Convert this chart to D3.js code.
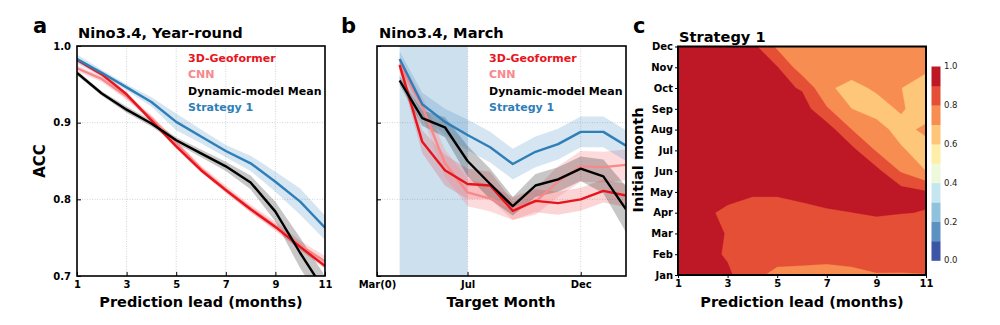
<!DOCTYPE html>
<html>
<head>
<meta charset="utf-8">
<script src="https://cdn.jsdelivr.net/npm/d3@7"></script>
<style>
  body { margin: 0; background: #fff; }
  text { font-family: 'DejaVu Sans', sans-serif; }
</style>
</head>
<body>
<div id="chart"></div>
<script>
// ---- data ----
const leads = [1, 2, 3, 4, 5, 6, 7, 8, 9, 10, 11];
const leadTicks = [1, 3, 5, 7, 9, 11];

// panel a: year-round ACC by lead
const geoformerA = [0.982, 0.963, 0.937, 0.903, 0.869, 0.838, 0.812, 0.787, 0.764, 0.738, 0.713];
const cnnA = [0.971, 0.957, 0.934, 0.906, 0.873, 0.840, 0.813, 0.788, 0.765, 0.740, 0.719];
const dynamicA = [0.965, 0.938, 0.917, 0.899, 0.877, 0.860, 0.843, 0.822, 0.784, 0.730, 0.680];
const strategyA = [0.983, 0.965, 0.946, 0.927, 0.901, 0.882, 0.863, 0.847, 0.823, 0.797, 0.763];
const geoformerSpreadA = [0.003, 0.003, 0.003, 0.003, 0.003, 0.003, 0.003, 0.004, 0.004, 0.004, 0.004];
const cnnSpreadA = [0.004, 0.004, 0.004, 0.004, 0.004, 0.004, 0.005, 0.005, 0.006, 0.006, 0.007];
const dynamicSpreadA = [0.003, 0.003, 0.004, 0.004, 0.004, 0.005, 0.006, 0.009, 0.013, 0.02, 0.02];
const strategySpreadA = [0.006, 0.004, 0.004, 0.006, 0.011, 0.009, 0.008, 0.010, 0.013, 0.017, 0.016];

// panel b: March target, by target month (0 = Mar(0))
const targetMonths = [1, 2, 3, 4, 5, 6, 7, 8, 9, 10, 11];
const targetTicks = [0, 4, 9];
const targetTickLabels = ['Mar(0)', 'Jul', 'Dec'];
const springBarrier = [1, 4];
const geoformerB = [0.975, 0.875, 0.838, 0.820, 0.818, 0.785, 0.798, 0.795, 0.800, 0.811, 0.805];
const cnnB = [0.976, 0.921, 0.847, 0.809, 0.801, 0.788, 0.797, 0.823, 0.843, 0.842, 0.845];
const dynamicB = [0.955, 0.906, 0.894, 0.850, 0.820, 0.791, 0.818, 0.826, 0.840, 0.830, 0.787];
const strategyB = [0.983, 0.924, 0.901, 0.884, 0.868, 0.846, 0.862, 0.872, 0.888, 0.888, 0.870];
const geoformerSpreadB = [0.008, 0.015, 0.02, 0.02, 0.018, 0.012, 0.015, 0.015, 0.015, 0.015, 0.015];
const cnnSpreadB = [0.008, 0.012, 0.018, 0.018, 0.017, 0.015, 0.017, 0.02, 0.02, 0.02, 0.02];
const dynamicSpreadB = [0.006, 0.01, 0.013, 0.02, 0.02, 0.012, 0.015, 0.016, 0.016, 0.022, 0.03];
const strategySpreadB = [0.01, 0.015, 0.017, 0.02, 0.02, 0.02, 0.02, 0.02, 0.02, 0.02, 0.02];

// panel c: Strategy 1 ACC, rows = initial month (Jan..Dec), columns = lead 1..11
const initMonths = ['Jan', 'Feb', 'Mar', 'Apr', 'May', 'Jun', 'Jul', 'Aug', 'Sep', 'Oct', 'Nov', 'Dec'];
const strategyAcc = [
  [0.96, 0.94, 0.915, 0.84, 0.76, 0.75, 0.74, 0.76, 0.79, 0.79, 0.795],
  [0.97, 0.93, 0.89, 0.86, 0.86, 0.86, 0.853, 0.86, 0.88, 0.87, 0.88],
  [0.97, 0.94, 0.894, 0.87, 0.87, 0.87, 0.87, 0.86, 0.86, 0.86, 0.86],
  [0.97, 0.93, 0.87, 0.88, 0.88, 0.885, 0.89, 0.899, 0.909, 0.902, 0.898],
  [0.98, 0.97, 0.95, 0.906, 0.906, 0.915, 0.938, 0.95, 0.95, 0.94, 0.91],
  [0.98, 0.97, 0.96, 0.96, 0.96, 0.96, 0.96, 0.96, 0.93, 0.79, 0.70],
  [0.98, 0.97, 0.96, 0.96, 0.96, 0.96, 0.96, 0.93, 0.79, 0.71, 0.66],
  [0.98, 0.97, 0.96, 0.96, 0.96, 0.96, 0.95, 0.80, 0.73, 0.67, 0.72],
  [0.98, 0.97, 0.96, 0.95, 0.96, 0.95, 0.81, 0.70, 0.67, 0.71, 0.65],
  [0.98, 0.97, 0.96, 0.94, 0.93, 0.89, 0.71, 0.68, 0.71, 0.701, 0.65],
  [0.98, 0.97, 0.95, 0.93, 0.905, 0.74, 0.74, 0.73, 0.72, 0.701, 0.72],
  [0.97, 0.96, 0.94, 0.93, 0.78, 0.76, 0.75, 0.75, 0.74, 0.73, 0.73]
];
const accLevels = [0, 0.1, 0.2, 0.3, 0.4, 0.5, 0.6, 0.7, 0.8, 0.9, 1.0];
const colorbarTicks = [0, 0.2, 0.4, 0.6, 0.8, 1.0];

const seriesNames = ['3D-Geoformer', 'CNN', 'Dynamic-model Mean', 'Strategy 1'];
const seriesColors = ['#e8141c', '#f7898b', '#000000', '#2e7eb8'];
const bandColors = ['rgba(232,20,28,0.18)', 'rgba(247,137,139,0.3)', 'rgba(0,0,0,0.22)', 'rgba(46,126,184,0.2)'];

// ---- layout ----
const W = 1000;
const H = 325;
const plotTop = 46;
const plotBottom = 276;

const svg = d3.select('#chart')
  .append('svg')
  .attr('width', W)
  .attr('height', H);

const yAcc = d3.scaleLinear().domain([0.7, 1.0]).range([plotBottom, plotTop]);

function styleAxis(g, size) {
  g.select('.domain').remove();
  g.selectAll('text')
    .style('font-size', `${size}px`)
    .style('font-weight', 'bold')
    .attr('fill', '#000');
  g.selectAll('line').attr('stroke', '#000').attr('stroke-width', 1);
}

function clipRect(id, x0, x1) {
  svg.append('clipPath').attr('id', id)
    .append('rect')
    .attr('x', x0).attr('y', plotTop)
    .attr('width', x1 - x0).attr('height', plotBottom - plotTop);
}

function linePanel(opts) {
  const { x, xs, series, spreads, id } = opts;
  const [x0, x1] = x.range();
  clipRect(id, x0, x1);

  // grid
  const grid = svg.append('g');
  grid.selectAll('.vg')
    .data(opts.gridX)
    .enter()
    .append('line')
    .attr('x1', d => x(d)).attr('x2', d => x(d))
    .attr('y1', plotTop).attr('y2', plotBottom)
    .attr('stroke', '#c8c8c8').attr('stroke-width', 0.8)
    .attr('stroke-dasharray', '1,1.5');
  grid.selectAll('.hg')
    .data([0.8, 0.9])
    .enter()
    .append('line')
    .attr('x1', x0).attr('x2', x1)
    .attr('y1', d => yAcc(d)).attr('y2', d => yAcc(d))
    .attr('stroke', '#c8c8c8').attr('stroke-width', 0.8)
    .attr('stroke-dasharray', '1,1.5');

  const plot = svg.append('g').attr('clip-path', `url(#${id})`);

  if (opts.shade) {
    plot.append('rect')
      .attr('x', x(opts.shade[0]))
      .attr('y', plotTop)
      .attr('width', x(opts.shade[1]) - x(opts.shade[0]))
      .attr('height', plotBottom - plotTop)
      .attr('fill', 'rgba(46,126,184,0.24)');
  }

  const area = d3.area()
    .x((d, i) => x(xs[i]))
    .y0(d => yAcc(d[0] - d[1]))
    .y1(d => yAcc(d[0] + d[1]));
  const line = d3.line()
    .x((d, i) => x(xs[i]))
    .y(d => yAcc(d));

  series.forEach((s, k) => {
    plot.append('path')
      .datum(s.map((v, i) => [v, spreads[k][i]]))
      .attr('d', area)
      .attr('fill', bandColors[k]);
  });
  // draw order: CNN, 3D-Geoformer, dynamic, strategy
  [1, 0, 2, 3].forEach(k => {
    plot.append('path')
      .datum(series[k])
      .attr('d', line)
      .attr('fill', 'none')
      .attr('stroke', seriesColors[k])
      .attr('stroke-width', 2.4)
      .attr('stroke-linejoin', 'round');
  });

  // axes (ticks pointing inward)
  const xAxis = svg.append('g')
    .attr('transform', `translate(0,${plotBottom})`)
    .call(d3.axisBottom(x).tickValues(opts.xTicks).tickFormat(opts.xFormat).tickSize(-4).tickPadding(5));
  styleAxis(xAxis, 10);
  const yAxis = svg.append('g')
    .attr('transform', `translate(${x0},0)`)
    .call(d3.axisLeft(yAcc).tickValues([0.7, 0.8, 0.9, 1.0]).tickFormat(d3.format('.1f')).tickSize(-4).tickPadding(6));
  styleAxis(yAxis, 10);
  if (!opts.yLabels) yAxis.selectAll('text').remove();

  // frame
  svg.append('rect')
    .attr('x', x0).attr('y', plotTop)
    .attr('width', x1 - x0).attr('height', plotBottom - plotTop)
    .attr('fill', 'none').attr('stroke', '#000').attr('stroke-width', 1.6);

  // legend
  seriesNames.forEach((name, k) => {
    svg.append('text')
      .attr('x', opts.legendX)
      .attr('y', 62 + k * 16.3)
      .attr('fill', seriesColors[k])
      .style('font-size', '11px')
      .style('font-weight', 'bold')
      .text(name);
  });
}

function panelText(x, y, str, size, anchor) {
  return svg.append('text')
    .attr('x', x).attr('y', y)
    .attr('text-anchor', anchor || 'start')
    .style('font-size', `${size}px`)
    .style('font-weight', 'bold')
    .text(str);
}

// ---- panel a ----
const xLead = d3.scaleLinear().domain([1, 11]).range([77, 325]);
linePanel({
  id: 'clip-a',
  x: xLead,
  xs: leads,
  xTicks: leadTicks,
  xFormat: d3.format('d'),
  gridX: leadTicks,
  series: [geoformerA, cnnA, dynamicA, strategyA],
  spreads: [geoformerSpreadA, cnnSpreadA, dynamicSpreadA, strategySpreadA],
  legendX: 188,
  yLabels: true
});
panelText(33, 33, 'a', 21);
panelText(78, 38, 'Nino3.4, Year-round', 14.6);
panelText(201, 307, 'Prediction lead (months)', 14.5, 'middle');
panelText(0, 0, 'ACC', 15, 'middle')
  .attr('transform', 'translate(45,161) rotate(-90)');

// ---- panel b ----
const xTarget = d3.scaleLinear().domain([0, 11]).range([377, 626]);
linePanel({
  id: 'clip-b',
  x: xTarget,
  xs: targetMonths,
  xTicks: targetTicks,
  xFormat: (d, i) => targetTickLabels[i],
  gridX: [4, 9],
  series: [geoformerB, cnnB, dynamicB, strategyB],
  spreads: [geoformerSpreadB, cnnSpreadB, dynamicSpreadB, strategySpreadB],
  shade: springBarrier,
  legendX: 489,
  yLabels: false
});
panelText(341, 33, 'b', 21);
panelText(379, 38, 'Nino3.4, March', 14.6);
panelText(501, 307, 'Target Month', 14.5, 'middle');

// ---- panel c ----
const xC = d3.scaleLinear().domain([1, 11]).range([678, 926]);
const yC = d3.scaleLinear().domain([0, 11]).range([plotBottom - 1, plotTop + 0.5]);
svg.append('clipPath').attr('id', 'clip-c')
  .append('rect')
  .attr('x', 678).attr('y', yC(11))
  .attr('width', 926 - 678).attr('height', yC(0) - yC(11));

const nCol = leads.length;
const nRow = initMonths.length;
const flat = [];
strategyAcc.forEach(row => row.forEach(v => flat.push(v)));
const contours = d3.contours()
  .size([nCol, nRow])
  .thresholds(accLevels.slice(0, -1))(flat);
// grid value i sits at contour coordinate i + 0.5
const xGrid = d3.scaleLinear().domain([0.5, nCol - 0.5]).range([xC(1), xC(11)]);
const yGrid = d3.scaleLinear().domain([0.5, nRow - 0.5]).range([yC(0), yC(11)]);
const gridPath = d3.geoPath(d3.geoTransform({
  point(px, py) { this.stream.point(xGrid(px), yGrid(py)); }
}));
const levelColor = t => d3.interpolateRdYlBu(1 - (t + 0.05));

svg.append('g')
  .attr('clip-path', 'url(#clip-c)')
  .selectAll('path')
  .data(contours)
  .enter()
  .append('path')
  .attr('d', gridPath)
  .attr('fill', d => levelColor(d.value))
  .attr('stroke', d => levelColor(d.value))
  .attr('stroke-width', 0.3);

const xAxisC = svg.append('g')
  .attr('transform', `translate(0,${yC(0)})`)
  .call(d3.axisBottom(xC).tickValues(leadTicks).tickFormat(d3.format('d')).tickSize(3).tickPadding(2));
styleAxis(xAxisC, 10);
const yAxisC = svg.append('g')
  .attr('transform', 'translate(678,0)')
  .call(d3.axisLeft(yC).tickValues(d3.range(nRow)).tickFormat(i => initMonths[i]).tickSize(3).tickPadding(2));
styleAxis(yAxisC, 10);

svg.append('rect')
  .attr('x', 678).attr('y', yC(11))
  .attr('width', 926 - 678).attr('height', yC(0) - yC(11))
  .attr('fill', 'none').attr('stroke', '#000').attr('stroke-width', 2);

panelText(633, 33, 'c', 21);
panelText(679, 42, 'Strategy 1', 14.6);
panelText(802, 307, 'Prediction lead (months)', 14.5, 'middle');
panelText(0, 0, 'Initial month', 14.5, 'middle')
  .attr('transform', 'translate(643,160) rotate(-90)');

// colorbar
const yBar = d3.scaleLinear().domain([0, 1]).range([260.5, 66.5]);
svg.append('g')
  .selectAll('rect')
  .data(accLevels.slice(0, -1))
  .enter()
  .append('rect')
  .attr('x', 931.5)
  .attr('y', d => yBar(d + 0.1))
  .attr('width', 9)
  .attr('height', d => yBar(d) - yBar(d + 0.1) + 0.3)
  .attr('fill', d => levelColor(d));
svg.append('g')
  .selectAll('text')
  .data(colorbarTicks)
  .enter()
  .append('text')
  .attr('x', 944)
  .attr('y', d => yBar(d))
  .attr('dy', '0.35em')
  .style('font-size', '8.5px')
  .attr('fill', '#222')
  .text(d => d.toFixed(1));
</script>
</body>
</html>
